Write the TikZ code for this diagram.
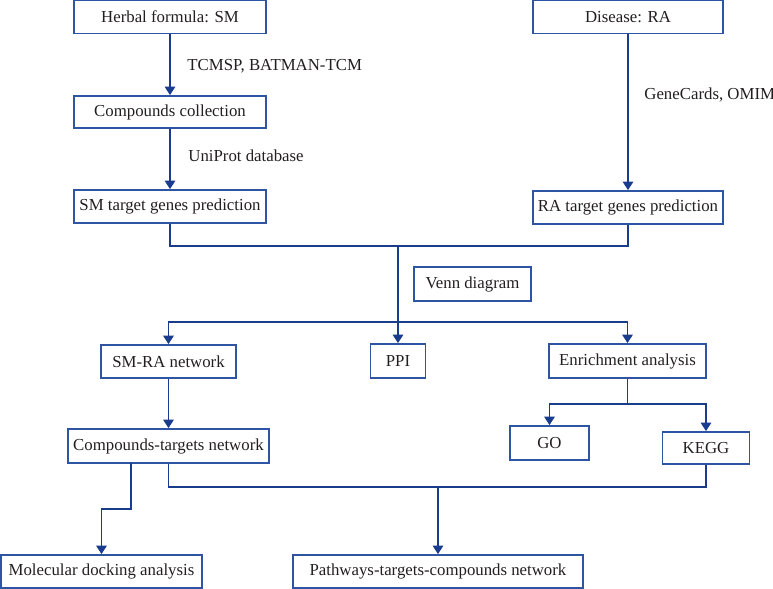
\documentclass[tikz,border=0pt]{standalone}
\usepackage{fontspec}
\setmainfont{Liberation Serif}
\usepackage{xcolor}
\usepackage{tikz}
\usetikzlibrary{arrows.meta,calc}
\definecolor{frame}{HTML}{2E54A4}
\definecolor{link}{HTML}{1A3C8C}
\definecolor{ink}{HTML}{231F20}
\tikzset{
  box/.style={draw=frame, line width=0.9pt, text=ink, inner sep=0pt,
    font=\fontsize{8.4}{10}\selectfont},
  line/.style={draw=link, line width=0.8pt},
  arr/.style={line, -{Triangle[width=5.2pt,length=4.2pt]}},
  lab/.style={text=ink, font=\fontsize{8.4}{10}\selectfont, anchor=west, inner sep=0pt}
}

\begin{document}
\begin{tikzpicture}[x=0.5pt,y=-0.5pt]
  \useasboundingbox (0,0) rectangle (773,589);

  % top row
  \node[box, minimum width=96pt, minimum height=16.5pt] (herb) at (170,17) {Herbal formula: SM};
  \node[box, minimum width=96pt, minimum height=16pt] (comp) at (170,112) {Compounds collection};
  \node[box, minimum width=96pt, minimum height=16.5pt] (smt) at (170,206.5) {SM target genes prediction};
  \node[box, minimum width=95pt, minimum height=16.5pt] (dis) at (628,17) {Disease: RA};
  \node[box, minimum width=95pt, minimum height=16.5pt] (rat) at (628,207.5) {RA target genes prediction};

  % middle row
  \node[box, minimum width=58.5pt, minimum height=17pt] (venn) at (472.5,284) {Venn diagram};
  \node[box, minimum width=67.5pt, minimum height=16.5pt] (smra) at (168.5,361.5) {SM-RA network};
  \node[box, minimum width=27.5pt, minimum height=17pt] (ppi) at (398,361) {PPI};
  \node[box, minimum width=78.5pt, minimum height=17pt] (enr) at (627.5,361) {Enrichment analysis};
  \node[box, minimum width=39.5pt, minimum height=17pt] (go) at (549.5,443) {GO};
  \node[box, minimum width=43.5pt, minimum height=16pt] (kegg) at (706,448) {KEGG};
  \node[box, minimum width=100.5pt, minimum height=17pt] (ctn) at (168.5,446) {Compounds-targets network};

  % bottom row
  \node[box, minimum width=100.5pt, minimum height=16.5pt] (mol) at (101.5,571.5) {Molecular docking analysis};
  \node[box, minimum width=145pt, minimum height=16.5pt] (path) at (438,571.5) {Pathways-targets-compounds network};

  \coordinate (mA) at (398,246);
  \coordinate (mB) at (398,322);
  \coordinate (mC) at (627.5,404);
  \coordinate (mD) at (116,509);
  \coordinate (ctnL) at (131,463);
  \coordinate (mE) at (438,487);

  \draw[arr] (herb) -- (comp);
  \node[lab] at ($(herb.south)!0.52!(comp.north)+(17,0)$) {TCMSP, BATMAN-TCM};
  \draw[arr] (comp) -- (smt);
  \node[lab] at ($(comp.south)!0.45!(smt.north)+(18,0)$) {UniProt database};
  \draw[arr] (dis) -- (rat);
  \node[lab] at ($(dis.south)!0.39!(rat.north)+(16,0)$) {GeneCards, OMIM};

  \draw[line] (smt.south) |- (mA) -| (rat.south);
  \draw[arr] (mA) -- (ppi.north);
  \draw[arr] (mB) -| (smra.north);
  \draw[arr] (mB) -| (enr.north);
  \draw[line] (enr.south) -- (mC);
  \draw[arr] (mC) -| (go.north);
  \draw[arr] (mC) -| (kegg.north);
  \draw[arr] (smra) -- (ctn);

  \draw[arr] (ctnL) |- (mD) -| (mol.north);
  \draw[line] (ctn.south) |- (mE) -| (kegg.south);
  \draw[arr] (mE) -- (path.north);
\end{tikzpicture}
\end{document}
